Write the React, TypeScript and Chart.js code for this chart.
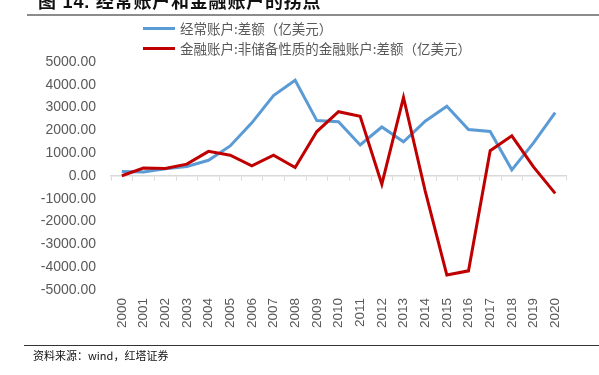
import React, { useEffect, useRef } from "react";
import { Chart, registerables } from "chart.js";

Chart.register(...registerables);

const years = [
  "2000", "2001", "2002", "2003", "2004", "2005", "2006", "2007", "2008", "2009", "2010",
  "2011", "2012", "2013", "2014", "2015", "2016", "2017", "2018", "2019", "2020",
];
const currentAccount = [
  200, 175, 320, 420, 690, 1320, 2330, 3530, 4200, 2430, 2380,
  1360, 2150, 1500, 2400, 3060, 2040, 1950, 270, 1450, 2780,
];
const financialAccount = [
  10, 350, 330, 520, 1080, 910, 450, 910, 370, 1950, 2820,
  2620, -360, 3450, -650, -4340, -4160, 1110, 1760, 400, -760,
];
const seriesNames = ["经常账户:差额（亿美元）", "金融账户:非储备性质的金融账户:差额（亿美元）"];
const seriesColors = ["#5B9BD5", "#C00000"];
const yMin = -5000;
const yMax = 5000;
const yStep = 1000;
const titleText = "图 14. 经常账户和金融账户的拐点";
const sourceText = "资料来源：wind，红塔证券";

const legendPlugin = {
  id: "customLegend",
  afterDraw(chart: any) {
    const ctx = chart.ctx;
    chart.data.datasets.forEach((ds: any, i: number) => {
      const y = 28.5 + i * 20;
      ctx.save();
      ctx.strokeStyle = ds.borderColor;
      ctx.lineWidth = 3;
      ctx.beginPath();
      ctx.moveTo(143, y);
      ctx.lineTo(175, y);
      ctx.stroke();
      ctx.fillStyle = "#595959";
      ctx.font = "13.5px 'Noto Sans CJK SC'";
      ctx.textBaseline = "middle";
      ctx.textAlign = "left";
      ctx.fillText(ds.label, 180, y + 0.5);
      ctx.restore();
    });
  },
};

export default function App() {
  const canvasRef = useRef<HTMLCanvasElement | null>(null);

  useEffect(() => {
    if (!canvasRef.current) return;
    const chart = new Chart(canvasRef.current, {
      type: "line",
      data: {
        labels: years,
        datasets: [
          {
            label: seriesNames[0],
            data: currentAccount,
            borderColor: seriesColors[0],
            backgroundColor: seriesColors[0],
            borderWidth: 3,
            pointRadius: 0,
            tension: 0,
            order: 1,
          },
          {
            label: seriesNames[1],
            data: financialAccount,
            borderColor: seriesColors[1],
            backgroundColor: seriesColors[1],
            borderWidth: 3,
            pointRadius: 0,
            tension: 0,
            order: 0,
          },
        ],
      },
      options: {
        animation: false,
        responsive: false,
        maintainAspectRatio: false,
        layout: { padding: { top: 62, right: 33, bottom: 0, left: 0 } },
        plugins: {
          legend: { display: false },
          tooltip: { enabled: false },
          title: { display: false },
        },
        scales: {
          x: {
            type: "category",
            position: { y: 0 } as any,
            offset: true,
            grid: {
              display: true,
              drawOnChartArea: false,
              drawTicks: true,
              tickLength: 4,
              tickColor: "#d9d9d9",
              offset: true,
            },
            border: { display: true, color: "#d9d9d9", width: 1.5 },
            ticks: { display: false, autoSkip: false },
          },
          x2: {
            type: "category",
            position: "bottom",
            labels: years,
            offset: true,
            grid: { display: false, drawTicks: false },
            border: { display: false },
            ticks: {
              autoSkip: false,
              minRotation: 90,
              maxRotation: 90,
              padding: 8,
              color: "#595959",
              font: { family: "'Liberation Sans'", size: 13.5 },
            },
            afterFit: (s: any) => {
              s.height = 85;
            },
          },
          y: {
            min: yMin,
            max: yMax,
            grid: { display: false, drawTicks: false },
            border: { display: false },
            ticks: {
              stepSize: yStep,
              padding: 15,
              color: "#595959",
              font: { family: "'Liberation Sans'", size: 14 },
              callback: (v: any) => Number(v).toFixed(2),
            },
            afterFit: (s: any) => {
              s.width = 111;
            },
          },
        },
      } as any,
      plugins: [legendPlugin],
    });
    return () => chart.destroy();
  }, []);

  return (
    <div
      style={{
        position: "fixed",
        left: 0,
        top: 0,
        width: 599,
        height: 375,
        overflow: "hidden",
        background: "#fff",
      }}
    >
      <canvas
        ref={canvasRef}
        width={599}
        height={375}
        style={{ position: "absolute", left: 0, top: 0, width: 599, height: 375 }}
      />
      <div
        style={{
          position: "absolute",
          left: 38,
          top: -7,
          fontSize: 18,
          lineHeight: "18px",
          fontWeight: "bold",
          letterSpacing: 0.8,
          whiteSpace: "nowrap",
          color: "#111",
          fontFamily: "'Liberation Sans', 'Noto Sans CJK SC', sans-serif",
        }}
      >
        {titleText}
      </div>
      <div style={{ position: "absolute", left: 27, right: 0, top: 14, height: 2, background: "#8c8c8c" }} />
      <div style={{ position: "absolute", left: 24, right: 0, top: 345, height: 1, background: "#333" }} />
      <div
        style={{
          position: "absolute",
          left: 33,
          top: 348,
          fontSize: 11,
          lineHeight: "14px",
          whiteSpace: "nowrap",
          color: "#111",
          fontFamily: "'Noto Sans CJK SC', sans-serif",
        }}
      >
        {sourceText}
      </div>
    </div>
  );
}
